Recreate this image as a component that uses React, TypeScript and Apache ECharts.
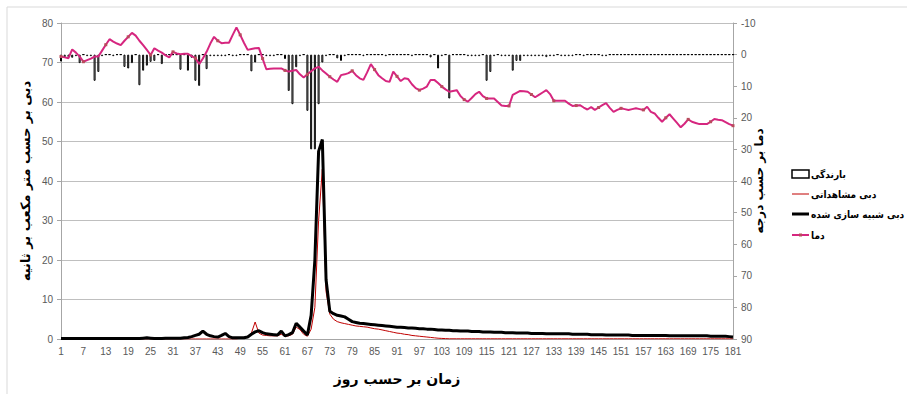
import React, { useEffect, useRef } from "react";
import * as echarts from "echarts";

const days: string[] = Array.from({ length: 181 }, (_, i) => String(i + 1));

const rainfall: number[] = [
  2.2, 0.8, 0.8, 1.0, 0.5, 2.7, 0, 0.5, 0.5, 8.3,
  5.5, 0.5, 0, 0, 0.5, 0, 0, 3.9, 4.4, 2.7,
  0, 9.7, 5.1, 3.5, 2.3, 2.0, 0, 3.0, 0, 0,
  0, 0, 4.8, 0, 5.1, 1.0, 8.3, 9.9, 0, 4.6,
  0.5, 0.5, 0.5, 0.5, 0.5, 0, 0.5, 0.5, 0, 0,
  0, 5.3, 2.5, 0, 0, 0.5, 0.5, 0.5, 0, 0,
  1.4, 11.5, 15.7, 4.0, 0.5, 0, 17.8, 30, 30, 15.7,
  2.5, 0.5, 0, 0, 1.2, 2.0, 0.5, 0, 0, 0,
  0, 0.5, 0, 0, 0, 0, 0, 0.5, 0, 0,
  0, 0, 0, 0, 0.5, 0, 0, 0, 0, 0.9,
  0, 4.4, 0.5, 0, 13.9, 0, 0, 0, 0, 0.5,
  0.5, 0.5, 0.5, 0, 8.3, 5.5, 0.5, 0, 0.5, 0.5,
  0.5, 5.1, 2.0, 2.0, 0.5, 0.5, 0.5, 0.5, 0.5, 0.5,
  0.8, 0.5, 0.5, 0, 0.5, 0.5, 0.5, 0.5, 0, 0,
  0.5, 0, 0, 0, 0, 0.5, 0.5, 0, 0, 0,
  0, 0, 0, 0, 0, 0, 0, 0, 0, 0,
  0, 0, 0, 0, 0, 0, 0, 0, 0, 0,
  0, 0, 0, 0, 0, 0, 0, 0, 0, 0,
  0,
];

const observed: number[] = [
  0, 0, 0, 0, 0, 0, 0, 0, 0, 0,
  0, 0, 0, 0, 0, 0, 0, 0, 0, 0,
  0, 0, 0, 0, 0, 0, 0, 0, 0, 0,
  0, 0, 0, 0, 0, 0, 0, 0, 0, 0,
  0, 0, 0, 0, 0, 0, 0, 0, 0.2, 0.3,
  0.6, 1.5, 4.3, 1.5, 1.0, 0.9, 0.8, 0.8, 0.8, 1.2,
  0.7, 0.8, 1.2, 3.0, 2.4, 1.2, 0.7, 2.5, 8.0, 30.0,
  43.0, 12.0, 6.3, 5.0, 4.4, 4.1, 3.9, 3.7, 3.5, 3.3,
  3.2, 3.1, 3.0, 2.8, 2.6, 2.5, 2.3, 2.1, 1.9, 1.7,
  1.5, 1.4, 1.2, 1.1, 0.9, 0.8, 0.7, 0.6, 0.5, 0.4,
  0.3, 0.2, 0.15, 0.1, 0.05, 0.05, 0.05, 0.05, 0.05, 0.05,
  0.05, 0.05, 0.05, 0.05, 0.05, 0.05, 0.05, 0.05, 0.05, 0.05,
  0.05, 0.05, 0.05, 0.05, 0.05, 0.05, 0.05, 0.05, 0.05, 0.05,
  0.05, 0.05, 0.05, 0.05, 0.05, 0.05, 0.05, 0.05, 0.05, 0.05,
  0.05, 0.05, 0.05, 0.05, 0.05, 0.05, 0.05, 0.05, 0.05, 0.05,
  0.05, 0.05, 0.05, 0.05, 0.05, 0.05, 0.05, 0.05, 0.05, 0.05,
  0.05, 0.05, 0.05, 0.05, 0.05, 0.05, 0.05, 0.05, 0.05, 0.05,
  0.05, 0.05, 0.05, 0.05, 0.05, 0.05, 0.05, 0.05, 0.05, 0.05,
  0.05,
];

const simulated: number[] = [
  0.1, 0.1, 0.1, 0.1, 0.1, 0.1, 0.1, 0.1, 0.1, 0.1,
  0.1, 0.1, 0.1, 0.1, 0.1, 0.1, 0.1, 0.1, 0.1, 0.1,
  0.1, 0.1, 0.2, 0.3, 0.2, 0.1, 0.1, 0.1, 0.2, 0.2,
  0.2, 0.2, 0.2, 0.3, 0.4, 0.6, 0.9, 1.2, 2.0, 1.2,
  0.8, 0.6, 0.5, 0.9, 1.4, 0.6, 0.3, 0.3, 0.3, 0.3,
  0.5, 1.2, 1.8, 2.1, 1.6, 1.3, 1.2, 1.1, 1.0, 2.0,
  0.8, 1.1, 1.6, 4.0, 3.0, 2.0, 1.0, 6.0, 20.0, 47.5,
  50.5, 15.0, 7.0, 6.4, 6.0, 5.8, 5.6, 5.0, 4.4, 4.2,
  4.0, 3.9, 3.8, 3.7, 3.6, 3.5, 3.4, 3.3, 3.2, 3.1,
  3.0, 3.0, 2.9, 2.8, 2.8, 2.7, 2.6, 2.6, 2.5, 2.5,
  2.4, 2.3, 2.3, 2.2, 2.2, 2.1, 2.1, 2.0, 2.0, 2.0,
  1.9, 1.9, 1.9, 1.8, 1.8, 1.8, 1.7, 1.7, 1.7, 1.6,
  1.6, 1.6, 1.5, 1.5, 1.5, 1.5, 1.4, 1.4, 1.4, 1.4,
  1.3, 1.3, 1.3, 1.3, 1.3, 1.3, 1.3, 1.2, 1.2, 1.2,
  1.2, 1.2, 1.1, 1.1, 1.1, 1.1, 1.0, 1.0, 1.0, 1.0,
  1.0, 1.0, 1.0, 0.9, 0.9, 0.9, 0.9, 0.9, 0.9, 0.9,
  0.9, 0.9, 0.9, 0.8, 0.8, 0.8, 0.8, 0.8, 0.8, 0.8,
  0.8, 0.8, 0.8, 0.8, 0.7, 0.7, 0.7, 0.7, 0.7, 0.6,
  0.5,
];

const temperature: number[] = [
  71.5, 71.3, 71.1, 73.3, 72.5, 71.5, 70.2, 70.6, 71.0, 71.5,
  71.5, 73.0, 74.5, 75.9, 75.3, 74.8, 74.4, 75.5, 76.5, 77.5,
  76.8, 75.5, 74.4, 73.2, 71.9, 73.6, 73.0, 72.5, 71.8, 71.3,
  72.7, 72.3, 72.1, 72.2, 72.2, 71.6, 71.1, 69.6, 71.0, 72.7,
  74.8, 76.5, 75.5, 74.9, 75.0, 75.0, 77.0, 78.9, 77.0, 75.0,
  73.2, 73.4, 73.6, 73.7, 71.0, 68.3, 68.4, 68.5, 68.5, 68.5,
  68.0, 67.7, 67.9, 68.1, 67.0, 66.2, 67.0, 67.8, 68.5, 68.9,
  68.0, 67.2, 66.4, 65.7, 65.1, 66.8, 67.0, 67.3, 67.9, 66.8,
  66.0, 65.6, 67.5, 69.6, 68.2, 66.8, 66.0, 65.3, 65.1, 67.7,
  66.5, 65.3, 66.0, 65.8, 64.5, 63.5, 63.0, 63.4, 63.9, 65.6,
  65.6, 64.8, 63.9, 63.2, 62.6, 62.8, 63.0, 61.5, 60.6, 60.1,
  61.0, 62.0, 62.6, 61.5, 60.9, 60.9, 60.9, 60.0, 59.1, 59.0,
  59.0, 61.8, 62.3, 62.8, 62.7, 62.6, 61.9, 61.2, 61.8, 62.4,
  63.0, 62.0, 60.3, 60.3, 60.3, 60.3, 59.6, 59.0, 59.1, 59.2,
  58.6, 58.1, 58.7, 58.0, 58.6, 59.2, 59.7, 58.5, 57.5, 58.0,
  58.4, 58.2, 58.0, 58.2, 58.4, 58.2, 58.0, 58.8, 57.5, 57.1,
  56.0, 55.0, 56.0, 56.9, 55.8, 54.7, 53.6, 54.5, 55.6, 55.0,
  54.7, 54.4, 54.4, 54.4, 55.0, 55.7, 55.5, 55.4, 54.9, 54.4,
  54.0,
];

const seriesNames = ["بارندگی", "دبی مشاهداتی", "دبی شبیه سازی شده", "دما"];
const leftAxisTitle = "دبی بر حسب متر مکعب بر ثانیه";
const rightAxisTitle = "دما بر حسب درجه";
const xAxisTitle = "زمان بر حسب روز";

const faFont = "DejaVu Sans";
const legendFont = "DejaVu Sans Condensed";
const numFont = "Liberation Sans";

const legendX = 792;
const legendIconW = 17;
const legendRows = [174, 194, 214, 235];
const legendFontSize = 10;

function measure(text: string, size: number): number {
  const c = document.createElement("canvas").getContext("2d");
  if (!c) return text.length * size * 0.5;
  c.font = `bold ${size}px "${legendFont}", "${faFont}"`;
  return c.measureText(text).width;
}

function legendGraphics() {
  const fs = legendFontSize;
  const textEl = (y: number, name: string) => {
    const w = measure(name, fs);
    return {
      type: "text",
      x: legendX + legendIconW + 2 + w / 2,
      y,
      style: {
        text: name,
        fontFamily: `"${legendFont}", "${faFont}"`,
        fontSize: fs,
        fontWeight: "bold",
        fill: "#000",
        align: "center",
        verticalAlign: "middle",
      },
      silent: true,
    };
  };
  return [
    {
      type: "rect",
      shape: { x: legendX, y: legendRows[0] - 4, width: legendIconW, height: 8 },
      style: { fill: "#fff", stroke: "#000", lineWidth: 1.5 },
      silent: true,
    },
    textEl(legendRows[0], seriesNames[0]),
    {
      type: "line",
      shape: { x1: legendX, y1: legendRows[1], x2: legendX + legendIconW, y2: legendRows[1] },
      style: { stroke: "#c00000", lineWidth: 1 },
      silent: true,
    },
    textEl(legendRows[1], seriesNames[1]),
    {
      type: "line",
      shape: { x1: legendX, y1: legendRows[2], x2: legendX + legendIconW, y2: legendRows[2] },
      style: { stroke: "#000", lineWidth: 3 },
      silent: true,
    },
    textEl(legendRows[2], seriesNames[2]),
    {
      type: "line",
      shape: { x1: legendX, y1: legendRows[3], x2: legendX + legendIconW, y2: legendRows[3] },
      style: { stroke: "#d6267f", lineWidth: 2 },
      silent: true,
    },
    {
      type: "rect",
      shape: { x: legendX + legendIconW / 2 - 1.5, y: legendRows[3] - 1.5, width: 3, height: 3 },
      style: { fill: "#b84c5c" },
      silent: true,
    },
    textEl(legendRows[3], seriesNames[3]),
  ];
}

export default function App() {
  const ref = useRef<HTMLDivElement>(null);
  useEffect(() => {
    if (!ref.current) return;
    const chart = echarts.init(ref.current, null, { renderer: "svg" });
    chart.setOption({
      animation: false,
      backgroundColor: "#ffffff",
      graphic: [
        {
          type: "rect",
          shape: { x: 7, y: 7, width: 930, height: 420 },
          style: { fill: "none", stroke: "#d9d9d9", lineWidth: 1 },
          silent: true,
        },
        ...legendGraphics(),
      ],
      grid: { left: 61, right: 174, top: 23, bottom: 55 },
      xAxis: {
        type: "category",
        data: days,
        boundaryGap: false,
        axisLine: { lineStyle: { color: "#a6a6a6" } },
        axisTick: { show: false },
        axisLabel: {
          interval: 5,
          color: "#595959",
          fontSize: 10,
          fontFamily: numFont,
          margin: 7,
        },
        name: xAxisTitle,
        nameLocation: "middle",
        nameGap: 33,
        nameMoveOverlap: false,
        nameTextStyle: { fontFamily: faFont, fontSize: 14, fontWeight: "bold", color: "#000" },
      },
      yAxis: [
        {
          type: "value",
          min: 0,
          max: 80,
          interval: 10,
          axisLine: { show: true, lineStyle: { color: "#a6a6a6" } },
          axisTick: { show: true, length: 4, lineStyle: { color: "#a6a6a6" } },
          axisLabel: { color: "#595959", fontSize: 10, fontFamily: numFont, margin: 8 },
          splitLine: { lineStyle: { color: "#bfbfbf" } },
          name: leftAxisTitle,
          nameLocation: "middle",
          nameRotate: 90,
          nameGap: 29,
          nameMoveOverlap: false,
          nameTextStyle: { fontFamily: faFont, fontSize: 13, fontWeight: "bold", color: "#000" },
        },
        {
          type: "value",
          min: -10,
          max: 90,
          interval: 10,
          inverse: true,
          position: "right",
          axisLine: { show: true, lineStyle: { color: "#a6a6a6" } },
          axisTick: { show: true, length: 4, lineStyle: { color: "#a6a6a6" } },
          axisLabel: { color: "#595959", fontSize: 10, fontFamily: numFont, margin: 8 },
          splitLine: { show: false },
          name: rightAxisTitle,
          nameLocation: "middle",
          nameRotate: 90,
          nameGap: 20,
          nameMoveOverlap: false,
          nameTextStyle: { fontFamily: faFont, fontSize: 12, fontWeight: "bold", color: "#000" },
        },
      ],
      series: [
        {
          name: seriesNames[0],
          type: "bar",
          yAxisIndex: 1,
          data: rainfall,
          barWidth: 2,
          itemStyle: { color: "#ffffff", borderColor: "#000000", borderWidth: 1 },
          z: 1,
        },
        {
          name: seriesNames[1],
          type: "line",
          yAxisIndex: 0,
          data: observed,
          symbol: "none",
          lineStyle: { color: "#c00000", width: 1 },
          itemStyle: { color: "#c00000" },
          z: 2,
        },
        {
          name: seriesNames[2],
          type: "line",
          yAxisIndex: 0,
          data: simulated,
          symbol: "none",
          lineStyle: { color: "#000000", width: 3 },
          itemStyle: { color: "#000000" },
          z: 3,
        },
        {
          name: seriesNames[3],
          type: "line",
          yAxisIndex: 0,
          data: temperature,
          symbol: "rect",
          symbolSize: 3,
          lineStyle: { color: "#d6267f", width: 2 },
          itemStyle: { color: "#b84c5c" },
          z: 4,
        },
      ],
    });
    return () => chart.dispose();
  }, []);
  return (
    <div
      ref={ref}
      style={{ position: "fixed", left: 0, top: 0, width: 907, height: 394 }}
    />
  );
}
